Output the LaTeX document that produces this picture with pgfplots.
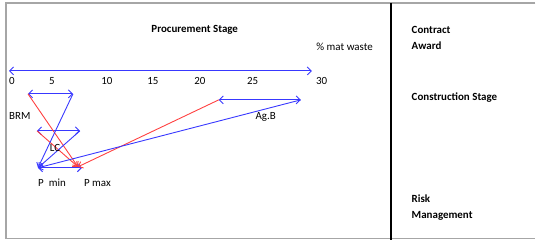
\documentclass[border=0pt]{standalone}
\usepackage{pgfplots}
\pgfplotsset{compat=1.18}
\usepackage{fontspec}
\setmainfont{Carlito}
\usetikzlibrary{arrows.meta}
\definecolor{lblue}{rgb}{0.22,0.22,1}
\definecolor{lred}{rgb}{1,0.25,0.25}
\begin{document}
\begin{tikzpicture}[font=\fontsize{11}{13}\selectfont]
\begin{axis}[
  scale only axis, width=536bp, height=240bp,
  xmin=-0.9662, xmax=50.821, ymin=-169, ymax=71,
  axis x line=middle, axis y line=none,
  x axis line style={draw=none},
  xtick={0.19,4.06,9.37,13.82,18.36,23.48,30.14},
  xticklabels={0,5,10,15,20,25,30},
  major tick length=0pt,
  xticklabel style={font=\fontsize{11}{13}\selectfont, yshift=-3bp},
  /pgf/number format/assume math mode=true,
  clip=false,
  every axis plot/.append style={line width=0.9pt},
  dbl/.style={lblue, {Straight Barb[length=4pt,width=8pt]}-{Straight Barb[length=4pt,width=8pt]}},
  tob/.style={lblue, -{Straight Barb[length=4pt,width=7pt]}},
  tor/.style={lred, -{Straight Barb[length=4pt,width=7pt]}},
]
\path (axis cs:-0.9662,-169) rectangle (axis cs:50.821,71);
% frame
\draw[gray!70, line width=1.2pt] (axis cs:50.821,68) -- (axis cs:-0.386,68) -- (axis cs:-0.386,-168) -- (axis cs:50.821,-168);
\draw[black, line width=2pt] (axis cs:36.9,68) -- (axis cs:36.9,-169);
% number line
\addplot[dbl] coordinates {(-0.1,0) (29.2,0)};
% double arrows
\addplot[dbl] coordinates {(1.74,-23) (6.09,-23)};
\addplot[dbl] coordinates {(2.61,-60) (6.76,-60)};
\addplot[dbl] coordinates {(20.19,-29) (28.12,-29)};
\addplot[dbl] coordinates {(2.71,-97) (6.96,-97)};
% red to P max
\addplot[tor] coordinates {(1.74,-23) (6.57,-96)};
\addplot[tor] coordinates {(2.61,-60) (6.57,-96)};
\addplot[tor] coordinates {(20.19,-29) (6.57,-96)};
% blue to P min
\addplot[tob] coordinates {(6.09,-23) (2.71,-97)};
\addplot[tob] coordinates {(6.76,-60) (2.71,-97)};
\addplot[tob] coordinates {(28.12,-29) (2.71,-97)};
% labels
\node[font=\fontsize{11}{13}\selectfont\bfseries] at (axis cs:17.87,41) {Procurement Stage};
\node at (axis cs:32.37,24) {\% mat waste};
\node[anchor=west, inner sep=0pt] at (axis cs:-0.1,-45) {BRM};
\node at (axis cs:4.35,-77) {LC};
\node at (axis cs:24.73,-46) {Ag.B};
\node[anchor=west, inner sep=0pt] at (axis cs:2.71,-112) {P\ \ min};
\node[anchor=west, inner sep=0pt] at (axis cs:7.15,-112) {P max};
\node[anchor=west, inner sep=0pt, font=\fontsize{11}{16}\selectfont\bfseries, align=left] at (axis cs:38.84,33) {Contract\\Award};
\node[anchor=west, inner sep=0pt, font=\fontsize{11}{13}\selectfont\bfseries] at (axis cs:38.84,-27) {Construction Stage};
\node[anchor=west, inner sep=0pt, font=\fontsize{11}{16}\selectfont\bfseries, align=left] at (axis cs:38.84,-137) {Risk\\Management};
\end{axis}
\end{tikzpicture}
\end{document}
